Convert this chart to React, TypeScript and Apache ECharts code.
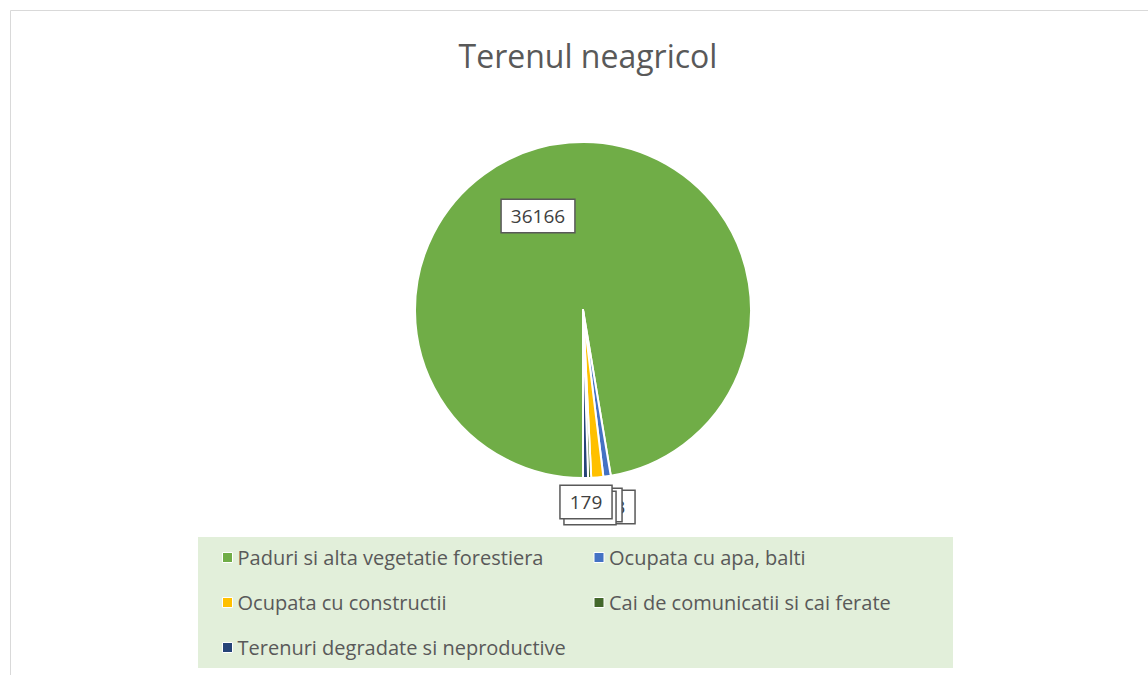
import React, { useEffect, useRef } from "react";
import * as echarts from "echarts";

const titleText = "Terenul neagricol";
const categories = [
  "Paduri si alta vegetatie forestiera",
  "Ocupata cu apa, balti",
  "Ocupata cu constructii",
  "Cai de comunicatii si cai ferate",
  "Terenuri degradate si neproductive",
];
const values = [36166, 263, 430, 110, 179];
const colors = ["#70AD47", "#4472C4", "#FFC000", "#43682B", "#264478"];

// label box centres (layout only)
const labelSpots = [
  [538, 216],
  [609, 507],
  [596, 505],
  [590, 508],
  [586, 502],
];

export default function App() {
  const ref = useRef<HTMLDivElement>(null);
  useEffect(() => {
    if (!ref.current) return;
    const chart = echarts.init(ref.current, null, { renderer: "svg" });
    const font = "Open Sans";
    chart.setOption({
      animation: false,
      backgroundColor: "#ffffff",
      title: {
        text: titleText,
        left: 583,
        textAlign: "center",
        top: 34,
        itemGap: 0,
        textStyle: { fontFamily: font, fontSize: 32, fontWeight: "normal", color: "#595959" },
      },
      graphic: [
        {
          type: "rect",
          shape: { x: 10.5, y: 10.5, width: 1160, height: 700 },
          style: { fill: "none", stroke: "#D9D9D9", lineWidth: 1 },
          silent: true,
          z: -10,
        },
        {
          type: "rect",
          shape: { x: 198, y: 537, width: 755, height: 131 },
          style: { fill: "#E2EFDA" },
          silent: true,
          z: -5,
        },
      ],
      legend: {
        left: 222,
        top: 540,
        width: 760,
        orient: "horizontal",
        padding: 0,
        itemGap: 10,
        itemWidth: 10,
        itemHeight: 10,
        icon: "rect",
        itemStyle: { borderColor: "#ffffff", borderWidth: 1 },
        textStyle: {
          fontFamily: font,
          fontSize: 20,
          color: "#595959",
          width: 346,
          lineHeight: 35,
          height: 35,
        },
        data: categories,
      },
      series: [
        {
          type: "pie",
          center: [583, 310],
          radius: 168,
          startAngle: 270,
          clockwise: true,
          avoidLabelOverlap: false,
          itemStyle: { borderColor: "#ffffff", borderWidth: 2 },
          label: {
            show: true,
            position: "inside",
            formatter: "{c}",
            fontFamily: font,
            fontSize: 19,
            color: "#404040",
            backgroundColor: "#ffffff",
            borderColor: "#595959",
            borderWidth: 1.5,
            padding: [7, 9, 6, 9],
          },
          labelLine: { show: false },
          labelLayout: (p: any) => ({
            x: labelSpots[p.dataIndex][0],
            y: labelSpots[p.dataIndex][1],
            align: "center",
            verticalAlign: "middle",
          }),
          emphasis: { disabled: true },
          data: categories.map((name, i) => ({
            name,
            value: values[i],
            itemStyle: { color: colors[i] },
          })),
        },
      ],
    });
    return () => chart.dispose();
  }, []);
  return (
    <div
      ref={ref}
      style={{ position: "fixed", left: 0, top: 0, width: 1148, height: 675 }}
    />
  );
}
